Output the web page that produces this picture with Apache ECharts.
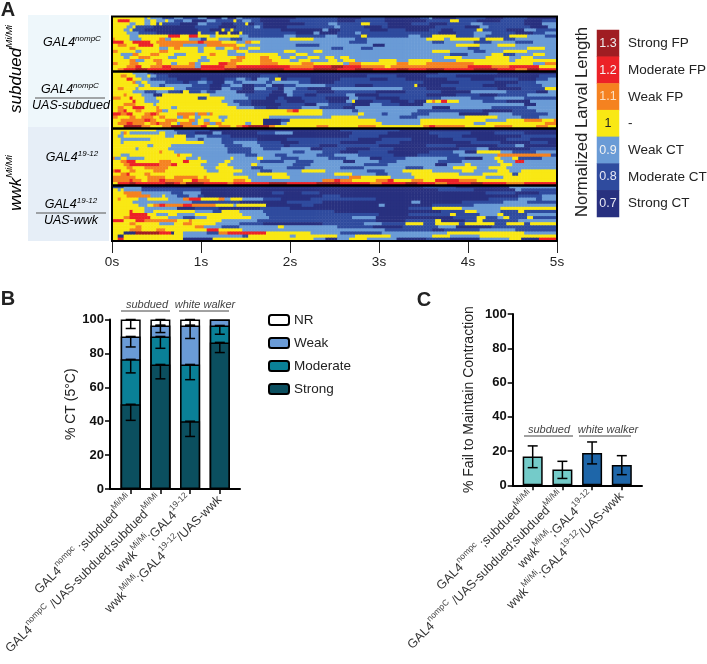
<!DOCTYPE html>
<html>
<head>
<meta charset="utf-8">
<style>html,body{margin:0;padding:0;background:#fff}#chart{width:707px;height:664px}</style>
<script src="https://cdn.jsdelivr.net/npm/echarts@6/dist/echarts.min.js"></script>
</head>
<body>
<div id="chart"></div>
<script>
// heatmap rows, run-length: letter = level, number = frames
const levelOf = { a: 0.7, b: 0.8, c: 0.9, d: 1, e: 1.1, f: 1.2, g: 1.3 };
const frames = 150;

const rowsSubduedCtrl = [
  "d11c1d1c4b4c3b5c3a5c2a3c2b6 a12b14a8b8a8 a4b3c1a8b10a6b8a10",
  "d2f4d5c2d2c3d1c2b3c3a5c3b6d1b2c3b3 a10b16a6b10a8 a6b8d3b6a8b8a6b5",
  "d6c2d3c2d2b1d1b6a6c3b5a4b4d1a2b3 a14b8c3b8d3b6a8 b6a6b8c4b14a6c6",
  "d5c2d1b6a14b8a6b6c2b1 a8b16c2b8a6b2a8 a8b10a5c3b14a6c4",
  "d4c2d1b4a18b4a4d1b2d1b8 b8a14c2a4b10a6b6 a8b4a4b8d2b8a6c4b6",
  "d5c4b6a14d1b5d1a3d1a3d1b6 b12a6c2a6b6c2b16 b10a6b6c6b8a6b4c4",
  "d6c3d10f4d3f3d4c2d8c3b4 b8c4b10c4b8d2b14 c4b4d8b6c4b8d6c6b4",
  "e1d5c4d6e2c2d6c4b2d4c4b4c6 c10d8c14b4c14 c6d6c2d10b2d6b4c14",
  "f4d3f6d2e14f2e6d5c3e2d3 c30b6c14 c8b4c10b6c8b6c8",
  "d2e3d4f5d2e8c8e10d3c5 c12b8c18a4c8 c16d8c6d6c14",
  "d6e2d8c3d2e2d6c2d4c3d3e2c3d4 c24b4c6b4c12 c20b4c16d6c4",
  "e2d6c2d6e3d10c2d8c3d4c4 c8d4c6d3c29 c8d6c8b4c6d8c10",
  "d3c4e2d4e3d5c4d8e2d4c6d5 d6c6d4c34 c14b6c8d4b4c6d4c4",
  "d4c2d3e4d6c3d8c2d10e3d5 e3d4c3d2c4d4c2d3c2d3c20 c12d6c8d8c4d4c8",
  "d6e2c3d3e3d12c4d7e4d6 e4d6c3d4c6d3c2d4c8d6c4 d8c8d18c2d14",
  "e2d4e3d6e2d3c2d4e2c2d6f3e3d8 e6d8e4d10c2e4d12e4 d6e16d20c4e4",
  "d5e3f2d3e4f3e8c2f8e4f8 f10e8f6g4f6e8d2e6 e20f8e6f10d6",
  "d2e2f4g4f8g10f8g12 g8f10g8f6g6f8g4 f6g6f10g8f6e4g4f6"
];

const rowsSubduedRescue = [
  "d7c5b2a96b20a20",
  "d3e2d3c4d1c2b4a31b6a30b10a10b10a28b6",
  "d5f2d3c3b9a8b2a6b4c3b2a2c4b2d2a2b8a10b10a6b6a14b8a8b8a6b4c2",
  "d7e1c2d2c6b6a2b3c3b2a4c3b3c8b2c9b4a8b30a12b12a8b6c4",
  "d9c2d2c3b2c9b6a4b3c4a4b4c2a4b4c10b10a6b14d1a8b14a8b12c6",
  "d2e2d4c1d12c4b8a4c3b4a4c4b4a2c4b4a8c24b8a10b14a8b8d6c2",
  "d7c4b4c4b4a1d2b4c2b3c7a6b6a4c3b8a6b14a10b12a10c12b10a4c4",
  "d4e1d5c4a3d16c12b8a6c2b4a4b10c3a8b16a10b8a6b10c8",
  "e3d3f1d4c4d14b3d6c8b6a4b2a6b8a8c3b6a8b14c10b8c10b8",
  "d7f1d3c5d21c4b6a8b4a6b8a6c2d1a6b6a6b2a4 d2e1d2f2d4 c8b8a8c4",
  "d4e4d6c1d24c4b4a10b8a4c4b8a6c4b6a8c34a4c8b4",
  "d2e2d3f4d4e1d4c2d20c6b4a4b8c6b8a4c26a6c14b12c6",
  "d2e2f1d3e2d5e2c2d32 d8e2f2d8 c10b2c20 b22a10b8c8",
  "f3e2f2d4e2f2e1d6e6c1e3c1e1d17 d20 c12d2c6b2c8b6c10a10c8b12c8",
  "e2d4e2d2e4d2e2d4c2e2d2c2d6c3d14 c21d9 c14b6c16 d11c8b6c6",
  "d3e8f2e2d3e4d4e2c1d2c2d4c1d13 a6b3 d8 d21 c15 d22c7d6e6d4e4",
  "d2e3f2e4d2e2f1e4d2c1e4c2d2e2c2e2d8c2d4 a6c2d6d20 d6c13d18c4d20e4",
  "d4g6e3d4e3g4e6f2d4e4d2e2f2g7e2 d14e4d10e6d16e2f2e10d10e6d8e4d6"
];

const rowsWwkCtrl = [
  "d15c6b12a44b20a53",
  "d3c1e1d1c10d2c4b6a6c3a12b6c6a20b12a14b14a8b10a12",
  "d2c2d14c3d4b3c4b8a40b10a20b8a20b12",
  "d3c10d12c4b2c6b12a10b24a8b10a14b8a10b8a9",
  "d3c1d27c6b4c8b8a6b14a12b8a24b10a10b6a3",
  "d12c2d6c18b6c6b8a2b10a6b14a16b10a14b6c3a8",
  "d8c1d10c20b8c4b6c10a4b8a8b8a22b6c4a14b8",
  "d16e1d4c18b8c14b4c6b6a6b10a14b8c4a4d8c4b8c7",
  "d3c3d16e1d4c18b4c6b4c10b6c8b12a8b14c13e18b2",
  "e1c2d2c6d14c4d1c10d1c8d2c6b6c10b6c8a4b8c14b6a6c4d2c4d2b8c5",
  "d3e2f3d8e4d4f2d6c6d2c10b8c4b6c10a4c8b6c14b8c12d2c4f3c4",
  "d4e2f10e4f2d8c6d3c8d2c12b6c18b8c16a4c6d2c10d4c6",
  "d5e2d4e8d12c4d6c6b4c8b6c12b8c14b6c10d8c4d6c6",
  "e1f2d3e2d6e4d14c4d8c6b4c10d8c14b6c6d10c10d4c8d4c4d12",
  "d3e2f1d5e2d18d10c8d10c16d6c8b4c8d16c8d10b2d8",
  "e8d4e6d3e8d2e1d14c8d6c20e4d10c8d24c6d18",
  "e6f1e3d2e4f2e6d3f2e4d8e4d2c24e4f2e4d8e4f2d6e4d4f8e6d10",
  "d2f4g2f10g3f2e2g6f8e2f12g6f10g8f10e4f8g4f6e4f8g4f8e6f11"
];

const rowsWwkRescue = [
  "b4c6a95b11a18c16",
  "d2c1d1c6b20a80b12a14c2b12",
  "d4e6c10b4c6a24b4a6b6a56b10a8b10c2",
  "d5e8c4d1c4b4c3b2a40b6a60b8c5",
  "d2e1d6c3d7c5e2f4d6e2c2d4c7b6a10b22a38b10c6b2c5",
  "d7c20b16a16b12a30c3a14b14c8b10",
  "d9c3d2e2f2e6f3e8d6c1d10a12b4a22c2a16b14c28",
  "d11c11a6b8a14b10a40b8d10c13d19",
  "d6f1d4c3d14c6b3d6c8b24a36b8d4c8b6d2b11",
  "d6f6d3c4d3c6d16c8b38a10b14d2b8c6d2b8c2",
  "d4e2f7d6c5b4c4d15c6b28c8a26b8d3b4c2d2b6d2b8",
  "f4d4f3e11d4e1d10c12b40a10b10d2a8b4d2b12c12",
  "d6e2d8c5d3e3d6d2c8b8a20b14c6b8d6b4d8b2d10b4d6b2d9",
  "d8e2d11d7e3c6b6c13d2c18b12a10b12c6a12b22",
  "d6e4d5e3d14f4d8c8c40b16a4b12c12b10",
  "d4a4g8f4a1d3c8b4e3f13d15c10b14c22d26c11",
  "d2a2d20c20b2d14c2d14c6d12c14d6c10d26",
  "d2f2d20a10d34c4a4c4d6c10a10b8a10c10d4a6f6"
];

const heatmapPanels = [rowsSubduedCtrl, rowsSubduedRescue, rowsWwkCtrl, rowsWwkRescue];
const panelTops = [16.5, 71.5, 128.5, 185.5];
const panelBottoms = [71.5, 128.5, 185.5, 241];

const legendValues = [1.3, 1.2, 1.1, 1, 0.9, 0.8, 0.7];
const legendLabels = ["Strong FP", "Moderate FP", "Weak FP", "-", "Weak CT", "Moderate CT", "Strong CT"];
const levelColors = ["#a01d22", "#ec2227", "#f58220", "#f9e814", "#6a9bd6", "#2f4b9e", "#28307f"];
const keyLabelColors = ["#eee", "#f6f6f6", "#fbe0c0", "#222", "#f2f2f2", "#e8e8f4", "#e8e8f4"];

// panel B
const genotypes = [
  "{n|GAL4}{s|nompc}{n| ;subdued}{s|Mi/Mi}",
  "{n|GAL4}{s|nompC}{n| /UAS-subdued;subdued}{s|Mi/Mi}",
  "{n|wwk}{s|Mi/Mi}{n|;GAL4}{s|19-12}",
  "{n|wwk}{s|Mi/Mi}{n|;GAL4}{s|19-12}{n|/UAS-wwk}"
];
const strongVals = [50, 73.5, 40, 86.5];
const moderateVals = [26.5, 16.5, 33.5, 10];
const weakVals = [13.5, 6.5, 23, 3.5];
const nrVals = [10, 3.5, 3.5, 0];
const strongLow = [40.5, 65, 31, 80.5];
const moderateLow = [68.5, 83, 64.5, 91.3];
const weakLow = [83.8, 92.3, 88.8, 100];
const nrLow = [94.7, 96.6, 96.6, 100];

// panel C
const failVals = [16.8, 9.2, 18.9, 11.9];
const failHigh = [23, 14, 25.3, 17.3];
const failLow = [10.3, 4, 12.5, 6.2];
const failColors = ["#74cbc9", "#74cbc9", "#1e66a9", "#1e66a9"];

const xPos = [0, 1, 2, 3];
const font = "Liberation Sans, Arial, sans-serif";

function expandRow(text) {
  const out = [];
  for (const m of text.matchAll(/([a-g])(\d+)/g)) {
    for (let i = 0; i < +m[2]; i++) out.push(levelOf[m[1]]);
  }
  // a run read short just carries on to the right edge
  while (out.length < frames) out.push(out[out.length - 1]);
  return out.slice(0, frames);
}

const frameNames = Array.from({ length: frames }, (_, i) => String(i));

const grids = [], xAxes = [], yAxes = [], series = [];

heatmapPanels.forEach((rows, p) => {
  grids.push({
    left: 112, width: 445, top: panelTops[p], height: panelBottoms[p] - panelTops[p],
    show: true, borderColor: "#000", borderWidth: 2, z: 5, backgroundColor: "transparent",
    outerBoundsMode: "none"
  });
  xAxes.push({ type: "category", gridIndex: p, data: frameNames, show: false });
  yAxes.push({ type: "category", gridIndex: p, inverse: true, show: false, data: rows.map((_, i) => String(i)) });
  const cells = [];
  rows.forEach((row, y) => expandRow(row).forEach((v, x) => cells.push([x, y, v])));
  series.push({ type: "heatmap", xAxisIndex: p, yAxisIndex: p, data: cells, progressive: 0, animation: false });
});

// time axis under the last panel
xAxes.push({
  type: "value", gridIndex: 3, position: "bottom", min: 0, max: 5, interval: 1,
  axisLine: { show: true, onZero: false, lineStyle: { color: "#000", width: 1.5 } },
  axisTick: { show: true, length: 12, lineStyle: { color: "#222", width: 1 } },
  axisLabel: { formatter: "{value}s", fontSize: 13.5, color: "#222", fontFamily: font, margin: 14 },
  splitLine: { show: false }
});

// colour key
grids.push({ left: 597, width: 22, top: 30, height: 187, outerBoundsMode: "none" });
xAxes.push({ type: "category", gridIndex: 4, data: ["key"], show: false });
yAxes.push({
  type: "category", gridIndex: 4, inverse: true, position: "right", data: legendLabels,
  axisLine: { show: false }, axisTick: { show: false },
  axisLabel: { fontSize: 13.5, color: "#222", fontFamily: font, margin: 9 }
});
series.push({
  type: "heatmap", xAxisIndex: 5, yAxisIndex: 4, progressive: 0, animation: false,
  data: legendValues.map((v, i) => ({ value: [0, i, v], label: { color: keyLabelColors[i] } })),
  label: { show: true, fontSize: 12.5, fontFamily: font, formatter: (d) => d.value[2] }
});

// axes shared by the two bar panels
function barXAxis(idx, min, max) {
  return {
    type: "value", gridIndex: idx, min, max,
    splitLine: { show: false },
    axisLine: { show: true, onZero: false, lineStyle: { color: "#000", width: 2 } },
    axisTick: { show: true, customValues: xPos, length: 5, lineStyle: { color: "#000", width: 1.5 } },
    axisLabel: {
      customValues: xPos, rotate: 45, margin: 9, color: "#333", fontFamily: font,
      formatter: (v) => genotypes[v],
      rich: {
        n: { fontSize: 12.5, color: "#333", fontFamily: font, lineHeight: 20 },
        s: { fontSize: 8.5, color: "#444", fontFamily: font, verticalAlign: "top", lineHeight: 15 }
      }
    }
  };
}
function barYAxis(idx, name, gap) {
  return {
    type: "value", gridIndex: idx, min: 0, max: 100, interval: 20,
    name, nameLocation: "middle", nameGap: gap,
    nameTextStyle: { fontSize: 14, color: "#222", fontFamily: font },
    splitLine: { show: false },
    axisLine: { show: true, onZero: false, lineStyle: { color: "#000", width: 2 } },
    axisTick: { show: true, length: 5, lineStyle: { color: "#000", width: 1.5 } },
    axisLabel: { fontSize: 13, fontWeight: "bold", color: "#111", fontFamily: font, margin: 6 }
  };
}

grids.push({ left: 110, top: 319.5, width: 130, height: 169.5, outerBoundsMode: "none" });
xAxes.push(barXAxis(5, -0.697, 3.68));
yAxes.push(barYAxis(5, "% CT (5°C)", 31));

grids.push({ left: 512.7, top: 314, width: 129.3, height: 171.3, outerBoundsMode: "none" });
xAxes.push(barXAxis(6, -0.673, 3.68));
yAxes.push(barYAxis(6, "% Fail to Maintain Contraction", 37));

// drawn tallest first so each segment shows above the one in front of it
const stackNames = ["Strong", "Moderate", "Weak", "NR"];
const stackVals = [strongVals, moderateVals, weakVals, nrVals];
const stackColors = ["#0b4f5f", "#0a8097", "#6a9bd6", "#ffffff"];
[3, 2, 1, 0].forEach((k) => {
  series.push({
    name: stackNames[k], type: "bar", xAxisIndex: 6, yAxisIndex: 5,
    barWidth: 20, barGap: "-100%", animation: false,
    data: xPos.map((x, i) => [x, stackVals.slice(0, k + 1).reduce((s, arr) => s + arr[i], 0)]),
    itemStyle: { color: stackColors[k], borderColor: "#000", borderWidth: 1.5 }
  });
});

function errorSeries(xIdx, yIdx, points) {
  return {
    type: "custom", xAxisIndex: xIdx, yAxisIndex: yIdx, animation: false, z: 10, clip: false,
    data: points,
    renderItem: (params, api) => {
      const hi = api.coord([api.value(0), api.value(1)]);
      const lo = api.coord([api.value(0), api.value(2)]);
      const style = { stroke: "#000", lineWidth: 1.5, fill: null };
      return {
        type: "group",
        children: [
          { type: "line", shape: { x1: hi[0], y1: hi[1], x2: lo[0], y2: lo[1] }, style },
          { type: "line", shape: { x1: hi[0] - 5, y1: hi[1], x2: hi[0] + 5, y2: hi[1] }, style },
          { type: "line", shape: { x1: lo[0] - 5, y1: lo[1], x2: lo[0] + 5, y2: lo[1] }, style }
        ]
      };
    }
  };
}

// whiskers hang from each cumulative segment top
const lowsB = [strongLow, moderateLow, weakLow, nrLow];
const pointsB = [];
xPos.forEach((x, i) => {
  let top = 0;
  stackVals.forEach((vals, k) => {
    top += vals[i];
    if (lowsB[k][i] < top) pointsB.push([x, top, lowsB[k][i]]);
  });
});
series.push(errorSeries(6, 5, pointsB));

series.push({
  type: "bar", xAxisIndex: 7, yAxisIndex: 6, barWidth: 20, animation: false,
  data: failVals.map((v, i) => ({ value: [xPos[i], v], itemStyle: { color: failColors[i] } })),
  itemStyle: { borderColor: "#000", borderWidth: 1.5 }
});
series.push(errorSeries(7, 6, xPos.map((x, i) => [x, failHigh[i], failLow[i]])));

// text and rules that are not part of an axis
function txt(x, y, rich, text, extra) {
  return {
    type: "text", x, y, z: 20,
    style: Object.assign({
      text, rich, align: "center", verticalAlign: "middle", fontFamily: font
    }, extra || {})
  };
}
function rule(x1, x2, y, color, w) {
  return { type: "line", z: 20, shape: { x1, y1: y, x2, y2: y }, style: { stroke: color, lineWidth: w } };
}
const boxRich = {
  i: { fontSize: 12.5, fontStyle: "italic", color: "#333", fontFamily: font, lineHeight: 16 },
  s: { fontSize: 8, fontStyle: "italic", color: "#333", fontFamily: font, verticalAlign: "top", lineHeight: 13 }
};
const sideRich = {
  i: { fontSize: 17, fontStyle: "italic", color: "#222", fontFamily: font, lineHeight: 24 },
  s: { fontSize: 9.5, fontStyle: "italic", color: "#333", fontFamily: font, verticalAlign: "top", lineHeight: 18 }
};
const groupStyle = { fontSize: 11, fontStyle: "italic", fill: "#444" };
const letterStyle = { fontSize: 20, fontWeight: "bold", fill: "#222" };

const graphics = [
  { type: "rect", z: -1, shape: { x: 28, y: 15, width: 81, height: 112 }, style: { fill: "#eef7fb" } },
  { type: "rect", z: -1, shape: { x: 28, y: 127, width: 81, height: 114 }, style: { fill: "#e6eef7" } },
  txt(8, 10, null, "A", letterStyle),
  txt(8, 299, null, "B", letterStyle),
  txt(424, 300, null, "C", letterStyle),
  Object.assign(txt(16, 69, sideRich, "{i|subdued}{s|Mi/Mi}"), { rotation: Math.PI / 2 }),
  Object.assign(txt(16, 183, sideRich, "{i|wwk}{s|Mi/Mi}"), { rotation: Math.PI / 2 }),
  txt(72, 43, boxRich, "{i|GAL4}{s|nompC}"),
  txt(70, 90, boxRich, "{i|GAL4}{s|nompC}"),
  rule(35, 105, 98, "#555", 1.2),
  txt(71, 106, boxRich, "{i|UAS-subdued}"),
  txt(72, 158, boxRich, "{i|GAL4}{s|19-12}"),
  txt(71, 205, boxRich, "{i|GAL4}{s|19-12}"),
  rule(36, 106, 213, "#555", 1.2),
  txt(71, 221, boxRich, "{i|UAS-wwk}"),
  Object.assign(txt(582, 122, null, "Normalized Larval Length", { fontSize: 16.7, fill: "#222" }), { rotation: Math.PI / 2 }),
  txt(147, 305, null, "subdued", groupStyle),
  rule(121, 170, 311, "#444", 1),
  txt(205, 305, null, "white walker", groupStyle),
  rule(179, 229, 311, "#444", 1),
  txt(549, 430, null, "subdued", groupStyle),
  rule(524, 573, 436, "#444", 1),
  txt(608, 430, null, "white walker", groupStyle),
  rule(579, 631, 436, "#444", 1)
];

const chart = echarts.init(document.getElementById("chart"));
chart.setOption({
  animation: false,
  backgroundColor: "#fff",
  grid: grids,
  xAxis: xAxes,
  yAxis: yAxes,
  series,
  graphic: graphics,
  visualMap: {
    show: false, type: "piecewise", seriesIndex: [0, 1, 2, 3, 4], dimension: 2,
    pieces: legendValues.map((v, i) => ({ value: v, color: levelColors[i] }))
  },
  legend: {
    data: ["NR", "Weak", "Moderate", "Strong"],
    orient: "vertical", left: 263, top: 308, itemWidth: 20, itemHeight: 10, itemGap: 9,
    textStyle: { fontSize: 13.5, color: "#222", fontFamily: font }
  }
});
</script>
</body>
</html>
